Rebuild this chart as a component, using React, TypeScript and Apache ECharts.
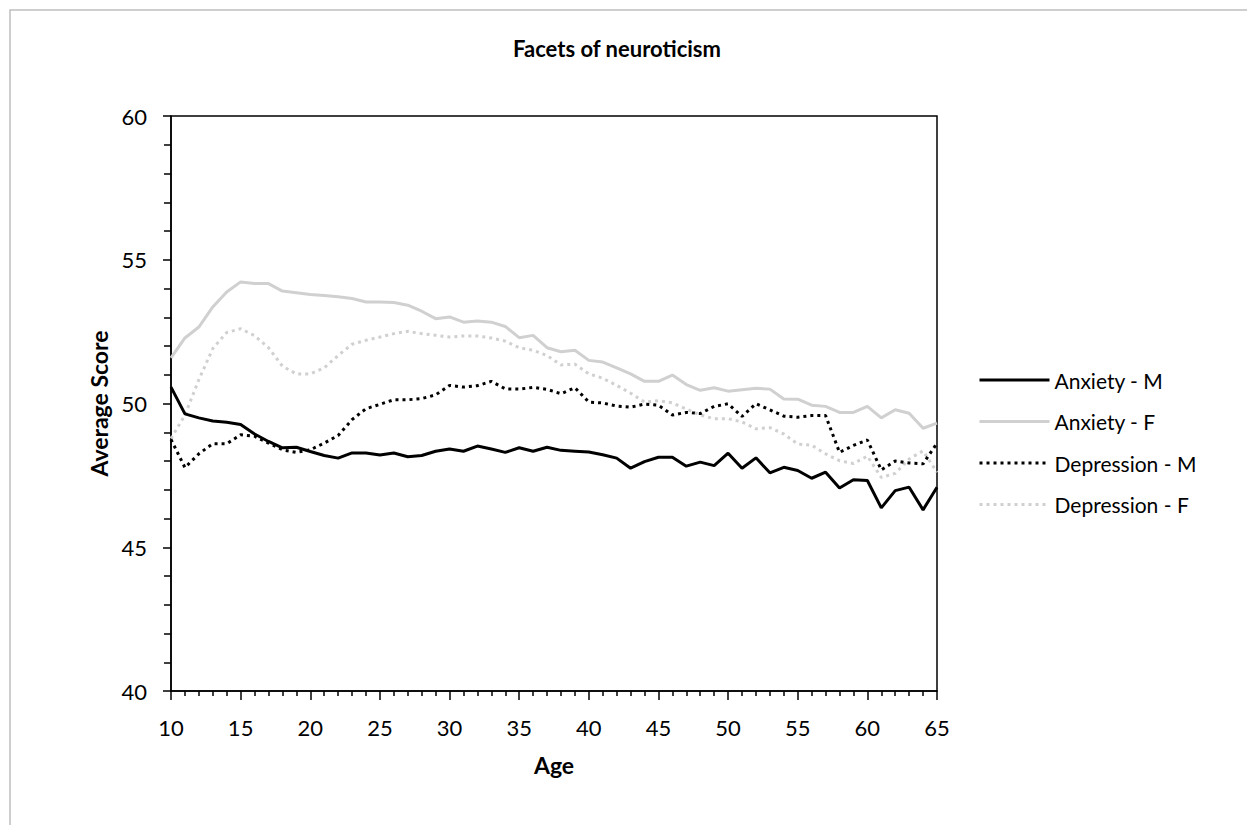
import React, { useEffect, useRef } from "react";
import * as echarts from "echarts";

const ages: number[] = [];
for (let a = 10; a <= 65; a++) ages.push(a);

const seriesNames = ["Anxiety - M", "Anxiety - F", "Depression - M", "Depression - F"];

const anxietyM = [
  50.57, 49.64, 49.5, 49.39, 49.35, 49.27, 48.94, 48.68, 48.46, 48.48,
  48.33, 48.19, 48.1, 48.28, 48.28, 48.21, 48.28, 48.15, 48.19, 48.34,
  48.42, 48.34, 48.52, 48.42, 48.3, 48.46, 48.34, 48.48, 48.37, 48.34,
  48.31, 48.22, 48.1, 47.75, 47.98, 48.13, 48.13, 47.82, 47.96, 47.84,
  48.27, 47.75, 48.11, 47.59, 47.78, 47.67, 47.4, 47.61, 47.06, 47.35,
  47.32, 46.37, 46.97, 47.09, 46.3, 47.09,
];

const anxietyF = [
  51.59, 52.28, 52.66, 53.36, 53.88, 54.23, 54.17, 54.17, 53.91, 53.85,
  53.79, 53.76, 53.71, 53.65, 53.53, 53.53, 53.51, 53.42, 53.21, 52.95,
  53.01, 52.83, 52.87, 52.83, 52.68, 52.29, 52.37, 51.94, 51.8, 51.85,
  51.5, 51.44, 51.24, 51.03, 50.77, 50.77, 50.99, 50.66, 50.46, 50.55,
  50.43, 50.48, 50.53, 50.5, 50.16, 50.15, 49.94, 49.9, 49.69, 49.69,
  49.9, 49.5, 49.78, 49.66, 49.14, 49.32,
];

const depressionM = [
  48.75, 47.77, 48.25, 48.6, 48.6, 48.91, 48.86, 48.62, 48.39, 48.3,
  48.39, 48.62, 48.89, 49.44, 49.82, 49.97, 50.13, 50.13, 50.17, 50.3,
  50.63, 50.57, 50.62, 50.77, 50.51, 50.5, 50.56, 50.49, 50.34, 50.55,
  50.05, 50.02, 49.91, 49.87, 49.98, 49.94, 49.6, 49.69, 49.65, 49.9,
  49.99, 49.55, 49.99, 49.78, 49.56, 49.52, 49.58, 49.58, 48.3, 48.54,
  48.73, 47.69, 48.0, 47.93, 47.9, 48.62,
];

const depressionF = [
  48.78, 49.6, 50.83, 51.91, 52.47, 52.6, 52.36, 51.94, 51.3, 51.03,
  51.03, 51.24, 51.67, 52.06, 52.2, 52.31, 52.43, 52.51, 52.43, 52.37,
  52.31, 52.35, 52.35, 52.28, 52.17, 51.94, 51.85, 51.67, 51.34, 51.37,
  51.03, 50.88, 50.63, 50.36, 50.05, 50.1, 50.02, 49.81, 49.6, 49.47,
  49.47, 49.36, 49.12, 49.16, 48.94, 48.59, 48.55, 48.25, 48.01, 47.91,
  48.17, 47.43, 47.57, 48.07, 48.35, 47.61,
];

const BLACK = "#000000";
const GRAY = "#d0d0d0";
const FONT = "Lato, 'Open Sans', sans-serif";

const pairs = (vals: number[]) => ages.map((a, i) => [a, vals[i]]);

export default function App() {
  const ref = useRef<HTMLDivElement>(null);
  useEffect(() => {
    if (!ref.current) return;
    const chart = echarts.init(ref.current, null, { renderer: "svg" });
    const mk = (name: string, vals: number[], color: string, dotted: boolean) => ({
      name,
      type: "line",
      data: pairs(vals),
      symbol: "none",
      showSymbol: false,
      lineStyle: {
        color,
        width: 3,
        type: dotted ? [3, 4] : "solid",
        cap: "butt",
      },
      itemStyle: { color },
      emphasis: { disabled: true },
    });
    chart.setOption({
      animation: false,
      backgroundColor: "#ffffff",
      textStyle: { fontFamily: FONT },
      title: {
        text: "Facets of neuroticism",
        left: 612,
        top: 32,
        textAlign: "center",
        textStyle: { fontFamily: FONT, fontWeight: "bold", fontSize: 22, color: "#000" },
      },
      graphic: [
        {
          type: "rect",
          shape: { x: 10, y: 10, width: 1400, height: 1000 },
          style: { fill: "none", stroke: "#bfbfbf", lineWidth: 1.5 },
          silent: true,
        },
      ],
      legend: {
        orient: "vertical",
        left: 978,
        top: 368,
        padding: 0,
        itemWidth: 70,
        itemHeight: 14,
        itemGap: 17.5,
        data: seriesNames,
        itemStyle: { opacity: 0, borderWidth: 0 },
        lineStyle: { width: 3 },
        textStyle: { fontFamily: FONT, fontSize: 21, color: "#000", lineHeight: 24 },
      },
      grid: {
        left: 171,
        right: 310,
        top: 116,
        bottom: 134,
        show: true,
        borderColor: BLACK,
        borderWidth: 1.5,
        backgroundColor: "transparent",
      },
      xAxis: {
        type: "value",
        min: 10,
        max: 65,
        interval: 5,
        name: "Age",
        nameLocation: "middle",
        nameGap: 62,
        nameTextStyle: { fontFamily: FONT, fontWeight: "bold", fontSize: 23, color: "#000" },
        axisLine: { show: true, lineStyle: { color: BLACK, width: 1.5 } },
        axisTick: { show: true, length: 9, lineStyle: { color: BLACK, width: 1.5 } },
        minorTick: { show: true, splitNumber: 5, length: 5, lineStyle: { color: BLACK, width: 1.5 } },
        splitLine: { show: false },
        minorSplitLine: { show: false },
        axisLabel: { fontFamily: FONT, fontSize: 22, color: "#000", margin: 25 },
      },
      yAxis: {
        type: "value",
        min: 40,
        max: 60,
        interval: 5,
        name: "Average Score",
        nameLocation: "middle",
        nameGap: 58,
        nameTextStyle: { fontFamily: FONT, fontWeight: "bold", fontSize: 23, color: "#000" },
        axisLine: { show: true, lineStyle: { color: BLACK, width: 1.5 } },
        axisTick: { show: true, length: 8, lineStyle: { color: BLACK, width: 1.5 } },
        minorTick: { show: true, splitNumber: 5, length: 7, lineStyle: { color: BLACK, width: 1.5 } },
        splitLine: { show: false },
        minorSplitLine: { show: false },
        axisLabel: { fontFamily: FONT, fontSize: 22, color: "#000", margin: 24 },
      },
      series: [
        mk(seriesNames[3], depressionF, GRAY, true),
        mk(seriesNames[1], anxietyF, GRAY, false),
        mk(seriesNames[2], depressionM, BLACK, true),
        mk(seriesNames[0], anxietyM, BLACK, false),
      ],
    });
    return () => chart.dispose();
  }, []);
  return (
    <div
      ref={ref}
      style={{ position: "absolute", left: 0, top: 0, width: 1247, height: 825, overflow: "hidden" }}
    />
  );
}
